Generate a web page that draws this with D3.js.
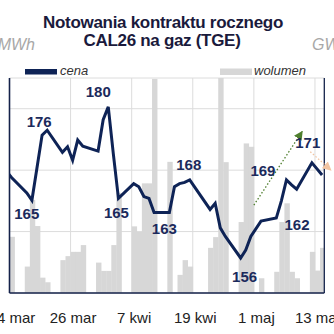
<!DOCTYPE html>
<html><head><meta charset="utf-8">
<script src="https://cdn.jsdelivr.net/npm/d3@7"></script>
<style>
html,body{margin:0;padding:0;background:#fff;}
svg{display:block;font-family:"Liberation Sans",Arial,sans-serif;}
</style></head>
<body><svg id="c" width="334" height="334"></svg>
<script>
// ---- data ----
const dates = ["2025-03-13","2025-03-14","2025-03-17","2025-03-18","2025-03-19","2025-03-20","2025-03-21",
"2025-03-24","2025-03-25","2025-03-26","2025-03-27","2025-03-28","2025-03-31",
"2025-04-01","2025-04-02","2025-04-03","2025-04-04","2025-04-07","2025-04-08","2025-04-09","2025-04-10","2025-04-11",
"2025-04-14","2025-04-15","2025-04-16","2025-04-17","2025-04-18","2025-04-22","2025-04-23","2025-04-24","2025-04-25",
"2025-04-28","2025-04-29","2025-04-30","2025-05-02","2025-05-05","2025-05-06","2025-05-07","2025-05-08","2025-05-09",
"2025-05-12","2025-05-13","2025-05-14"];
const price = [169.8,168.8,166.3,165.1,170.4,175.7,176.5,
172.9,173.8,171.6,174.9,173.9,173.1,
178.2,180.3,172.6,165.4,167.8,167.3,165.7,165.4,163.1,
163.1,167.3,167.8,168.0,168.4,163.6,164.6,160.6,159.2,
155.7,157.0,159.2,161.7,162.2,165.0,168.4,167.6,166.9,
171.2,170.2,169.2];
const volume = [null,183,86,303,218,50,35,
107,120,134,134,156,99,
72,72,156,326,217,199,357,357,697,
427,0,59,107,86,147,182,700,426,
231,487,476,48,69,231,292,69,48,
134,73,147];
const tickDates = ["2025-03-14","2025-03-26","2025-04-07","2025-04-19","2025-05-01","2025-05-13"];
const tickLabels = ["14 mar","26 mar","7 kwi","19 kwi","1 maj","13 maj"];
const priceTicks = [150,160,170,180];
const pointLabels = [
  {date:"2025-03-17", price:165, text:"165", dx:0, dy:18},
  {date:"2025-03-21", price:176, text:"176", dx:-8, dy:-6},
  {date:"2025-04-02", price:180, text:"180", dx:-10, dy:-12},
  {date:"2025-04-04", price:165, text:"165", dx:-2, dy:17},
  {date:"2025-04-14", price:163, text:"163", dx:-5, dy:20.5},
  {date:"2025-04-18", price:168, text:"168", dx:-1, dy:-12},
  {date:"2025-04-28", price:156, text:"156", dx:4, dy:26},
  {date:"2025-05-08", price:162, text:"162", dx:5.5, dy:10.5},
  {date:"2025-05-01", price:169, text:"169", dx:7, dy:0},
  {date:"2025-05-10", price:171, text:"171", dx:6, dy:-16}
];
const arrows = [
  {x0:"2025-05-01T00:00", y0:164.3, x1:"2025-05-10T12:00", y1:176.3, color:"#4f7f2e"},
  {x0:"2025-05-12T02:00", y0:173.0, x1:"2025-05-16T03:00", y1:170.0, color:"#f2c4a2"}
];

// ---- chart ----
const parse = d3.utcParse("%Y-%m-%d");
const parseT = d3.utcParse("%Y-%m-%dT%H:%M");
const data = dates.map((d,i)=>({date:parse(d), price:price[i], vol:volume[i]}));
const L=9.5, R=324.3, T=78, B=293;
const svg = d3.select("#c");
const x = d3.scaleUtc().domain([parse("2025-03-14"), parseT("2025-05-14T20:00")]).range([L,R]);
const y = d3.scaleLinear().domain([150,185]).range([B,T]);
const yv = d3.scaleLinear().domain([0,700]).range([B,T]);
const day = 864e5;

svg.append("defs").append("clipPath").attr("id","clip")
  .append("rect").attr("x",L).attr("y",T-20).attr("width",R-L).attr("height",B-T+20);

// gridlines
const grid = svg.append("g");
grid.selectAll("line.h").data(priceTicks.concat([185])).join("line")
  .attr("x1",L).attr("x2",R).attr("y1",d=>y(d)).attr("y2",d=>y(d))
  .attr("stroke","#dcdcdc").attr("stroke-width",1);
grid.selectAll("line.v").data(tickDates).join("line")
  .attr("x1",d=>x(parse(d))).attr("x2",d=>x(parse(d))).attr("y1",T).attr("y2",B)
  .attr("stroke","#dcdcdc").attr("stroke-width",1);

// bars
svg.append("g").attr("clip-path","url(#clip)")
  .selectAll("rect").data(data.filter(d=>d.vol!=null && d.vol>0)).join("rect")
  .attr("x",d=>x(d.date)).attr("width",d=>x(new Date(+d.date+day))-x(d.date)+0.3)
  .attr("y",d=>yv(d.vol)).attr("height",d=>B-yv(d.vol))
  .attr("fill","#d7d7d7");

// frame
svg.append("line").attr("x1",L).attr("x2",L).attr("y1",T).attr("y2",B).attr("stroke","#14224a").attr("stroke-width",1.6);
svg.append("line").attr("x1",R).attr("x2",R).attr("y1",T).attr("y2",B).attr("stroke","#14224a").attr("stroke-width",1.3);
svg.append("line").attr("x1",L).attr("x2",R).attr("y1",B).attr("y2",B).attr("stroke","#14224a").attr("stroke-width",1.6);

// price line
const line = d3.line().x(d=>x(new Date(+d.date+0.4*day))).y(d=>y(d.price));
svg.append("path").datum(data).attr("clip-path","url(#clip)")
  .attr("d",line).attr("fill","none").attr("stroke","#0e2356").attr("stroke-width",3)
  .attr("stroke-linejoin","miter");

// arrows
const defs = svg.select("defs");
arrows.forEach((a,i)=>{
  defs.append("marker").attr("id","ah"+i).attr("viewBox","0 0 10 10").attr("refX",9).attr("refY",5)
    .attr("markerWidth",9).attr("markerHeight",9).attr("markerUnits","userSpaceOnUse").attr("orient","auto")
    .append("path").attr("d","M0,0L10,5L0,10z").attr("fill",a.color);
  svg.append("line")
    .attr("x1",x(parseT(a.x0))).attr("y1",y(a.y0)).attr("x2",x(parseT(a.x1))).attr("y2",y(a.y1))
    .attr("stroke",a.color).attr("stroke-width",1.3).attr("stroke-dasharray","1.5,2")
    .attr("marker-end","url(#ah"+i+")");
});

// point labels
svg.append("g").selectAll("text").data(pointLabels).join("text")
  .attr("x",d=>x(new Date(+parse(d.date)+0.4*day))+d.dx)
  .attr("y",d=>y(d.price)+d.dy)
  .attr("text-anchor","middle").attr("font-weight","bold").attr("font-size",15)
  .attr("fill","#1b2a5c").text(d=>d.text);

// x axis
const ax = svg.append("g").attr("transform",`translate(0,${B})`)
  .call(d3.axisBottom(x).tickValues(tickDates.map(parse)).tickSize(0).tickPadding(0)
    .tickFormat((d,i)=>tickLabels[i]));
ax.select(".domain").remove();
ax.selectAll("text").attr("font-size",15).attr("fill","#222").attr("dy",null).attr("y",30)
  .attr("dx",2).attr("font-family","Liberation Sans, Arial, sans-serif");

// title
const title = svg.append("g").attr("font-weight","bold").attr("font-size",17).attr("fill","#1a1a3c")
  .attr("text-anchor","middle").attr("letter-spacing","-0.3");
title.append("text").attr("x",163).attr("y",27.5).text("Notowania kontraktu rocznego");
title.append("text").attr("x",162).attr("y",46).text("CAL26 na gaz (TGE)");

// units
svg.append("text").attr("x",35).attr("y",50).attr("text-anchor","end").attr("font-style","italic")
  .attr("font-size",16).attr("fill","#a8a8a8").text("zł/MWh");
svg.append("text").attr("x",312).attr("y",50).attr("font-style","italic")
  .attr("font-size",16).attr("fill","#a8a8a8").text("GWh");

// legend
svg.append("rect").attr("x",25).attr("y",69).attr("width",32).attr("height",5.5).attr("fill","#0e2356");
svg.append("text").attr("x",60).attr("y",75).attr("font-style","italic").attr("font-size",13).attr("fill","#333").text("cena");
svg.append("rect").attr("x",220).attr("y",68.5).attr("width",32).attr("height",6.5).attr("fill","#d7d7d7");
svg.append("text").attr("x",254).attr("y",75).attr("font-style","italic").attr("font-size",13).attr("fill","#333").text("wolumen");
</script>
</body></html>
